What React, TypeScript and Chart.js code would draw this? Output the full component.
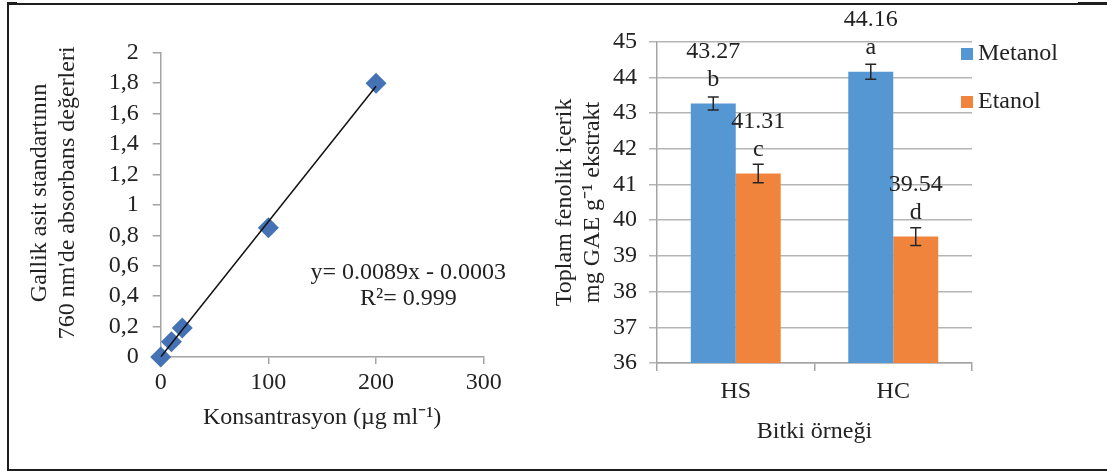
import React, { useEffect, useRef } from 'react';
import { Chart, registerables } from 'chart.js';

Chart.register(...registerables);

const FONT_FAMILY = "'Liberation Serif', 'Times New Roman', serif";
const FS = 24;
const TEXT = '#222222';
const AXIS = '#a3a3a3';
const GRID = '#b5b5b5';
const BLUE = '#5597d3';
const ORANGE = '#f0843c';
const DIAMOND = '#4472b4';

// ---- Left chart: gallic acid standard curve ----
const concentrations = [0, 10, 20, 100, 200];
const absorbances = [0, 0.1, 0.19, 0.85, 1.8];
const trendX = [0, 200];
const trendY = [0, 1.78];
const leftXTicks = ['0', '100', '200', '300'];
const leftYTicks = ['0', '0,2', '0,4', '0,6', '0,8', '1', '1,2', '1,4', '1,6', '1,8', '2'];
const equationLines = ['y= 0.0089x - 0.0003', 'R²= 0.999'];
const equationAt = [230, 0.552];
const leftXTitle = 'Konsantrasyon (µg ml⁻¹)';
const leftYTitle = ['\u00a0\u00a0\u00a0\u00a0Gallik asit standartının', '\u00a0\u00a0\u00a0\u00a0760 nm\'de absorbans değerleri'];

// ---- Right chart: total phenolic content ----
const samples = ['HS', 'HC'];
const methanol = [43.27, 44.16];
const ethanol = [41.31, 39.54];
const methanolErr = [0.18, 0.21];
const ethanolErr = [0.26, 0.25];
const methanolLetters = ['b', 'a'];
const ethanolLetters = ['c', 'd'];
const rightYTicks = ['36', '37', '38', '39', '40', '41', '42', '43', '44', '45'];
const rightXTitle = 'Bitki örneği';
const rightYTitle = ['Toplam fenolik içerik', 'mg GAE g⁻¹ ekstrakt'];

const font = () => ({ family: FONT_FAMILY, size: FS, lineHeight: 1.17 });

const fixAxis = (size: number) => (scale: any) => {
  if (scale.isHorizontal()) scale.height = size;
  else scale.width = size;
  scale.paddingLeft = 0;
  scale.paddingRight = 0;
  scale.paddingTop = 0;
  scale.paddingBottom = 0;
};

const equationPlugin = {
  id: 'equationText',
  afterDraw(chart: any) {
    const { ctx } = chart;
    const x = chart.scales.x.getPixelForValue(equationAt[0]);
    const y = chart.scales.y.getPixelForValue(equationAt[1]);
    ctx.save();
    ctx.fillStyle = TEXT;
    ctx.font = `${FS}px ${FONT_FAMILY}`;
    ctx.textAlign = 'center';
    ctx.textBaseline = 'middle';
    equationLines.forEach((line, i) => ctx.fillText(line, x, y + i * 26));
    ctx.restore();
  },
};

const barExtrasPlugin = {
  id: 'barExtras',
  afterDatasetsDraw(chart: any) {
    const { ctx } = chart;
    const yScale = chart.scales.y;
    chart.data.datasets.forEach((ds: any, di: number) => {
      const meta = chart.getDatasetMeta(di);
      meta.data.forEach((bar: any, i: number) => {
        const v = ds.data[i];
        const e = ds.errors[i];
        const top = yScale.getPixelForValue(v + e);
        const bot = yScale.getPixelForValue(v - e);
        const x = bar.x;
        ctx.save();
        ctx.strokeStyle = '#262626';
        ctx.lineWidth = 1.5;
        ctx.beginPath();
        ctx.moveTo(x, top);
        ctx.lineTo(x, bot);
        ctx.moveTo(x - 5.5, top);
        ctx.lineTo(x + 5.5, top);
        ctx.moveTo(x - 5.5, bot);
        ctx.lineTo(x + 5.5, bot);
        ctx.stroke();
        ctx.fillStyle = TEXT;
        ctx.font = `${FS}px ${FONT_FAMILY}`;
        ctx.textAlign = 'center';
        ctx.textBaseline = 'middle';
        ctx.fillText(v.toFixed(2), x, bar.y - 52);
        ctx.fillText(ds.letters[i], x, bar.y - 24);
        ctx.restore();
      });
    });
  },
};

const sideLegendPlugin = {
  id: 'sideLegend',
  afterDraw(chart: any) {
    const { ctx, chartArea } = chart;
    ctx.save();
    chart.data.datasets.forEach((ds: any, i: number) => {
      const bx = chartArea.right - 11;
      const by = chartArea.top + 6.3 + i * 48;
      ctx.fillStyle = ds.backgroundColor;
      ctx.fillRect(bx, by, 12, 12);
      ctx.fillStyle = TEXT;
      ctx.font = `${FS}px ${FONT_FAMILY}`;
      ctx.textAlign = 'left';
      ctx.textBaseline = 'middle';
      ctx.fillText(ds.label, bx + 17, by + 5.5);
    });
    ctx.restore();
  },
};

function LeftChart() {
  const ref = useRef<HTMLCanvasElement>(null);
  useEffect(() => {
    if (!ref.current) return;
    const chart = new Chart(ref.current, {
      type: 'scatter',
      data: {
        datasets: [
          {
            type: 'line',
            label: 'Doğrusal',
            data: trendX.map((x, i) => ({ x, y: trendY[i] })),
            borderColor: '#111111',
            borderWidth: 1.5,
            pointRadius: 0,
            fill: false,
          } as any,
          {
            label: 'Absorbans',
            data: concentrations.map((x, i) => ({ x, y: absorbances[i] })),
            pointStyle: 'rectRot',
            pointRadius: 10.5,
            backgroundColor: DIAMOND,
            borderColor: DIAMOND,
            borderWidth: 0,
            clip: false,
          } as any,
        ],
      },
      options: {
        animation: false,
        responsive: true,
        maintainAspectRatio: false,
        layout: { padding: { left: 0, top: 44.7, right: 56.3, bottom: 0 } },
        plugins: { legend: { display: false }, tooltip: { enabled: false } },
        scales: {
          x: {
            type: 'linear',
            min: 0,
            max: 300,
            ticks: {
              stepSize: 100,
              autoSkip: false,
              maxRotation: 0,
              callback: (_v: any, i: number) => leftXTicks[i],
              font: font(),
              color: TEXT,
              padding: 5,
            },
            grid: { drawOnChartArea: false, tickLength: 7, color: AXIS, lineWidth: 1.5 },
            border: { display: true, color: AXIS, width: 1.5 },
            title: { display: true, text: leftXTitle, font: font(), color: TEXT, padding: { top: 0, bottom: 31 } },
            afterFit: fixAxis(106),
          },
          y: {
            min: 0,
            max: 2,
            ticks: {
              stepSize: 0.2,
              autoSkip: false,
              callback: (_v: any, i: number) => leftYTicks[i],
              font: font(),
              color: TEXT,
              padding: 14,
            },
            grid: { drawOnChartArea: false, tickLength: 8, color: AXIS, lineWidth: 1.5 },
            border: { display: true, color: AXIS, width: 1.5 },
            title: { display: true, text: leftYTitle, font: font(), color: TEXT, padding: { top: 16, bottom: 0 } },
            afterFit: fixAxis(150.7),
          },
        },
      } as any,
      plugins: [equationPlugin],
    });
    return () => chart.destroy();
  }, []);
  return <canvas ref={ref} style={{ display: 'block' }} />;
}

function RightChart() {
  const ref = useRef<HTMLCanvasElement>(null);
  useEffect(() => {
    if (!ref.current) return;
    const chart = new Chart(ref.current, {
      type: 'bar',
      data: {
        labels: samples,
        datasets: [
          {
            label: 'Metanol',
            data: methanol,
            backgroundColor: BLUE,
            categoryPercentage: 0.571,
            barPercentage: 1,
            errors: methanolErr,
            letters: methanolLetters,
          } as any,
          {
            label: 'Etanol',
            data: ethanol,
            backgroundColor: ORANGE,
            categoryPercentage: 0.571,
            barPercentage: 1,
            errors: ethanolErr,
            letters: ethanolLetters,
          } as any,
        ],
      },
      options: {
        animation: false,
        responsive: true,
        maintainAspectRatio: false,
        layout: { padding: { left: 0, top: 33.7, right: 133, bottom: 0 } },
        plugins: { legend: { display: false }, tooltip: { enabled: false } },
        scales: {
          x: {
            ticks: { font: font(), color: TEXT, padding: 7, autoSkip: false, maxRotation: 0 },
            grid: { offset: true, drawOnChartArea: false, tickLength: 8, color: AXIS, lineWidth: 1.5 },
            border: { display: true, color: AXIS, width: 1.5 },
            title: { display: true, text: rightXTitle, font: font(), color: TEXT, padding: { top: 0, bottom: 17 } },
            afterFit: fixAxis(100),
          },
          y: {
            min: 36,
            max: 45,
            ticks: {
              stepSize: 1,
              autoSkip: false,
              callback: (_v: any, i: number) => rightYTicks[i],
              font: font(),
              color: TEXT,
              padding: 12,
            },
            grid: { color: GRID, tickLength: 8, lineWidth: 1.5 },
            border: { display: true, color: AXIS, width: 1.5 },
            title: { display: true, text: rightYTitle, font: font(), color: TEXT, padding: { top: 6, bottom: 0 } },
            afterFit: fixAxis(112),
          },
        },
      } as any,
      plugins: [barExtrasPlugin, sideLegendPlugin],
    });
    return () => chart.destroy();
  }, []);
  return <canvas ref={ref} style={{ display: 'block' }} />;
}

export default function App() {
  const line = (l: number, t: number, w: number, h: number) => (
    <div style={{ position: 'absolute', left: l, top: t, width: w, height: h, background: '#1e1e1e' }} />
  );
  return (
    <div style={{ position: 'absolute', left: 0, top: 0, width: 1107, height: 471, background: '#ffffff', overflow: 'hidden' }}>
      {line(7, 3, 1100, 1.5)}
      {line(7, 2, 10, 3)}
      {line(1078, 2, 29, 3)}
      {line(6.5, 3, 2, 468)}
      {line(6.5, 469, 1101, 2)}
      <div style={{ position: 'absolute', left: 10, top: 8, width: 530, height: 455 }}>
        <LeftChart />
      </div>
      <div style={{ position: 'absolute', left: 545, top: 8, width: 560, height: 455 }}>
        <RightChart />
      </div>
    </div>
  );
}
